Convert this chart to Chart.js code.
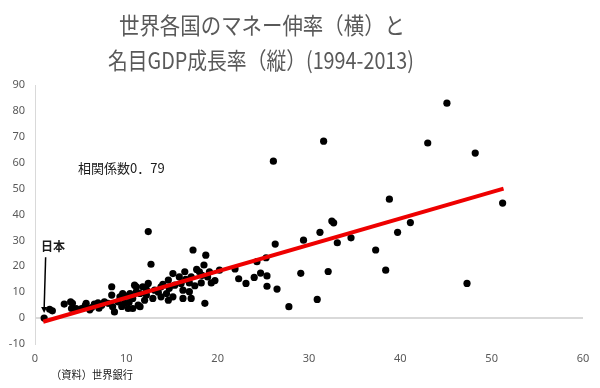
<!DOCTYPE html>
<html>
<head>
<meta charset="utf-8">
<script src="https://cdn.jsdelivr.net/npm/chart.js@4"></script>
<style>
  html, body { margin: 0; padding: 0; background: #fff; }
  #wrap { width: 600px; height: 388px; }
</style>
</head>
<body>
<div id="wrap"><canvas id="bieuDo"></canvas></div>
<script>
// Tiêu đề + nhãn
const titleLines = ["世界各国のマネー伸率（横）と", "名目GDP成長率（縦）(1994-2013)"];
const corrLabel = "相関係数0．79";
const japanLabel = "日本";
const sourceLabel = "（資料）世界銀行";

// Dữ liệu: tăng trưởng tiền (x), tăng trưởng GDP danh nghĩa (y)
const moneyGrowth = [
  1.0, 1.6, 1.9, 3.2, 3.9, 4.1, 4.0, 4.5, 5.1, 5.5, 5.6, 6.0, 6.2, 6.5, 6.9, 7.0,
  7.3, 7.6, 8.0, 8.4, 8.4, 8.5, 8.7, 9.1, 9.3, 9.5, 9.6, 9.8, 10.0, 10.2, 10.3, 10.4,
  10.7, 10.7, 10.9, 11.1, 11.1, 11.3, 11.5, 11.5, 11.8, 12.0, 12.2, 12.2, 12.4, 12.4,
  12.7, 12.9, 13.1, 13.5, 13.8, 13.8, 14.0, 14.4, 14.6, 14.6, 14.7, 15.1, 15.1, 15.3,
  15.8, 16.0, 16.2, 16.2, 16.4, 16.5, 16.9, 16.9, 17.1, 17.1, 17.3, 17.5, 17.7, 18.0,
  18.2, 18.3, 18.5, 18.6, 18.7, 18.9, 19.1, 19.3, 19.7, 20.2, 21.9, 22.3, 23.1, 24.0,
  24.3, 24.7, 25.3, 25.4, 25.4, 26.1, 26.3, 26.5, 27.8, 29.1, 29.4, 30.9, 31.2, 31.6,
  32.1, 32.5, 32.7, 33.1, 34.6, 37.3, 38.4, 38.8, 39.7, 41.1, 43.0, 45.1, 47.3, 48.2, 51.2
];
const gdpGrowth = [
  0.0, 3.4, 2.8, 5.4, 6.3, 5.7, 3.7, 3.7, 3.7, 4.8, 5.7, 3.2, 4.1, 5.4, 5.9, 3.8,
  5.0, 6.3, 5.7, 12.1, 8.9, 4.4, 2.4, 6.3, 8.2, 4.5, 9.5, 5.7, 8.5, 3.7, 6.0, 9.5,
  7.6, 3.7, 12.7, 10.2, 12.1, 5.0, 9.5, 4.4, 12.1, 6.9, 8.9, 11.0, 13.4, 33.4,
  20.8, 7.6, 10.8, 10.0, 12.1, 8.2, 13.0, 9.5, 14.7, 6.9, 11.5, 17.2, 8.2, 12.7,
  15.9, 13.4, 10.8, 7.6, 17.9, 15.0, 13.6, 10.2, 15.9, 7.6, 26.3, 12.5, 18.8, 17.9,
  13.6, 16.5, 20.5, 5.7, 24.3, 15.9, 17.9, 13.6, 14.5, 18.5, 19.0, 15.2, 13.4, 15.7,
  21.8, 17.4, 23.3, 16.3, 12.3, 60.6, 28.6, 11.2, 4.4, 17.3, 30.1, 7.2, 33.1, 68.3,
  18.0, 37.5, 36.8, 29.1, 31.0, 26.3, 18.5, 45.9, 33.1, 36.9, 67.6, 83.0, 13.4, 63.7, 44.4
];

// Đường xu hướng
const trendX = [0.9, 51.3];
const trendY = [-1.4, 50.0];

// Điểm Nhật Bản (mũi tên)
const japanX = 1.0;
const japanArrowY = [23.5, 2.0];

const points = moneyGrowth.map((x, i) => ({ x: x, y: gdpGrowth[i] }));
const trend = trendX.map((x, i) => ({ x: x, y: trendY[i] }));

const labelPlugin = {
  id: "labels",
  afterDraw(chart) {
    const ctx = chart.ctx;
    const xs = chart.scales.x;
    const ys = chart.scales.y;
    ctx.save();
    // tiêu đề
    ctx.fillStyle = "#595959";
    ctx.textAlign = "center";
    ctx.textBaseline = "middle";
    ctx.font = '23px "Noto Sans CJK JP"';
    ctx.fillText(titleLines[0], 262, 25, 286);
    ctx.fillText(titleLines[1], 261, 60, 306);

    // hệ số tương quan
    ctx.fillStyle = "#1a1a1a";
    ctx.textAlign = "left";
    ctx.font = '13px "Noto Sans CJK JP"';
    ctx.fillText(corrLabel, 78, 168);

    // Nhật Bản
    const jx = xs.getPixelForValue(japanX);
    ctx.font = 'bold 12px "Noto Sans CJK JP"';
    ctx.fillText(japanLabel, 41, 246);
    const y1 = ys.getPixelForValue(japanArrowY[0]);
    const y2 = ys.getPixelForValue(japanArrowY[1]);
    ctx.strokeStyle = "#000";
    ctx.lineWidth = 1.5;
    ctx.beginPath();
    ctx.moveTo(jx + 1.5, y1);
    ctx.lineTo(jx, y2 - 4);
    ctx.stroke();
    ctx.fillStyle = "#000";
    ctx.beginPath();
    ctx.moveTo(jx - 3, y2 - 6);
    ctx.lineTo(jx + 3, y2 - 6);
    ctx.lineTo(jx, y2);
    ctx.closePath();
    ctx.fill();

    // nguồn
    ctx.fillStyle = "#1a1a1a";
    ctx.font = '11px "Noto Sans CJK JP"';
    ctx.fillText(sourceLabel, 51, 375, 82);
    ctx.restore();
  },
};

new Chart(document.getElementById("bieuDo"), {
  type: "scatter",
  data: {
    datasets: [
      {
        type: "line",
        label: "trend",
        data: trend,
        borderColor: "#ee0000",
        borderWidth: 4,
        pointRadius: 0,
        fill: false,
        order: 0,
      },
      {
        label: "countries",
        data: points,
        backgroundColor: "#000",
        borderWidth: 0,
        pointRadius: 3.6,
        order: 1,
      },
    ],
  },
  options: {
    responsive: true,
    maintainAspectRatio: false,
    animation: false,
    layout: { padding: { top: 85, right: 17, left: 0, bottom: 0 } },
    plugins: { legend: { display: false }, tooltip: { enabled: false } },
    scales: {
      x: {
        type: "linear",
        min: 0,
        max: 60,
        ticks: { stepSize: 10, padding: 8, color: "#595959", font: { family: "Noto Sans", size: 11 } },
        grid: { display: false, drawTicks: false },
        border: { display: false },
        afterFit(s) { s.height = 44; },
      },
      y: {
        min: -10,
        max: 90,
        ticks: { stepSize: 10, padding: 10, color: "#595959", font: { family: "Noto Sans", size: 11 } },
        grid: {
          color: (c) => (c.tick && c.tick.value === 0 ? "#d9d9d9" : "rgba(0,0,0,0)"),
          lineWidth: 2,
          drawTicks: false,
        },
        border: { display: true, color: "#d9d9d9", width: 1 },
        afterFit(s) { s.width = 35; },
      },
    },
  },
  plugins: [labelPlugin],
});
</script>
</body>
</html>
